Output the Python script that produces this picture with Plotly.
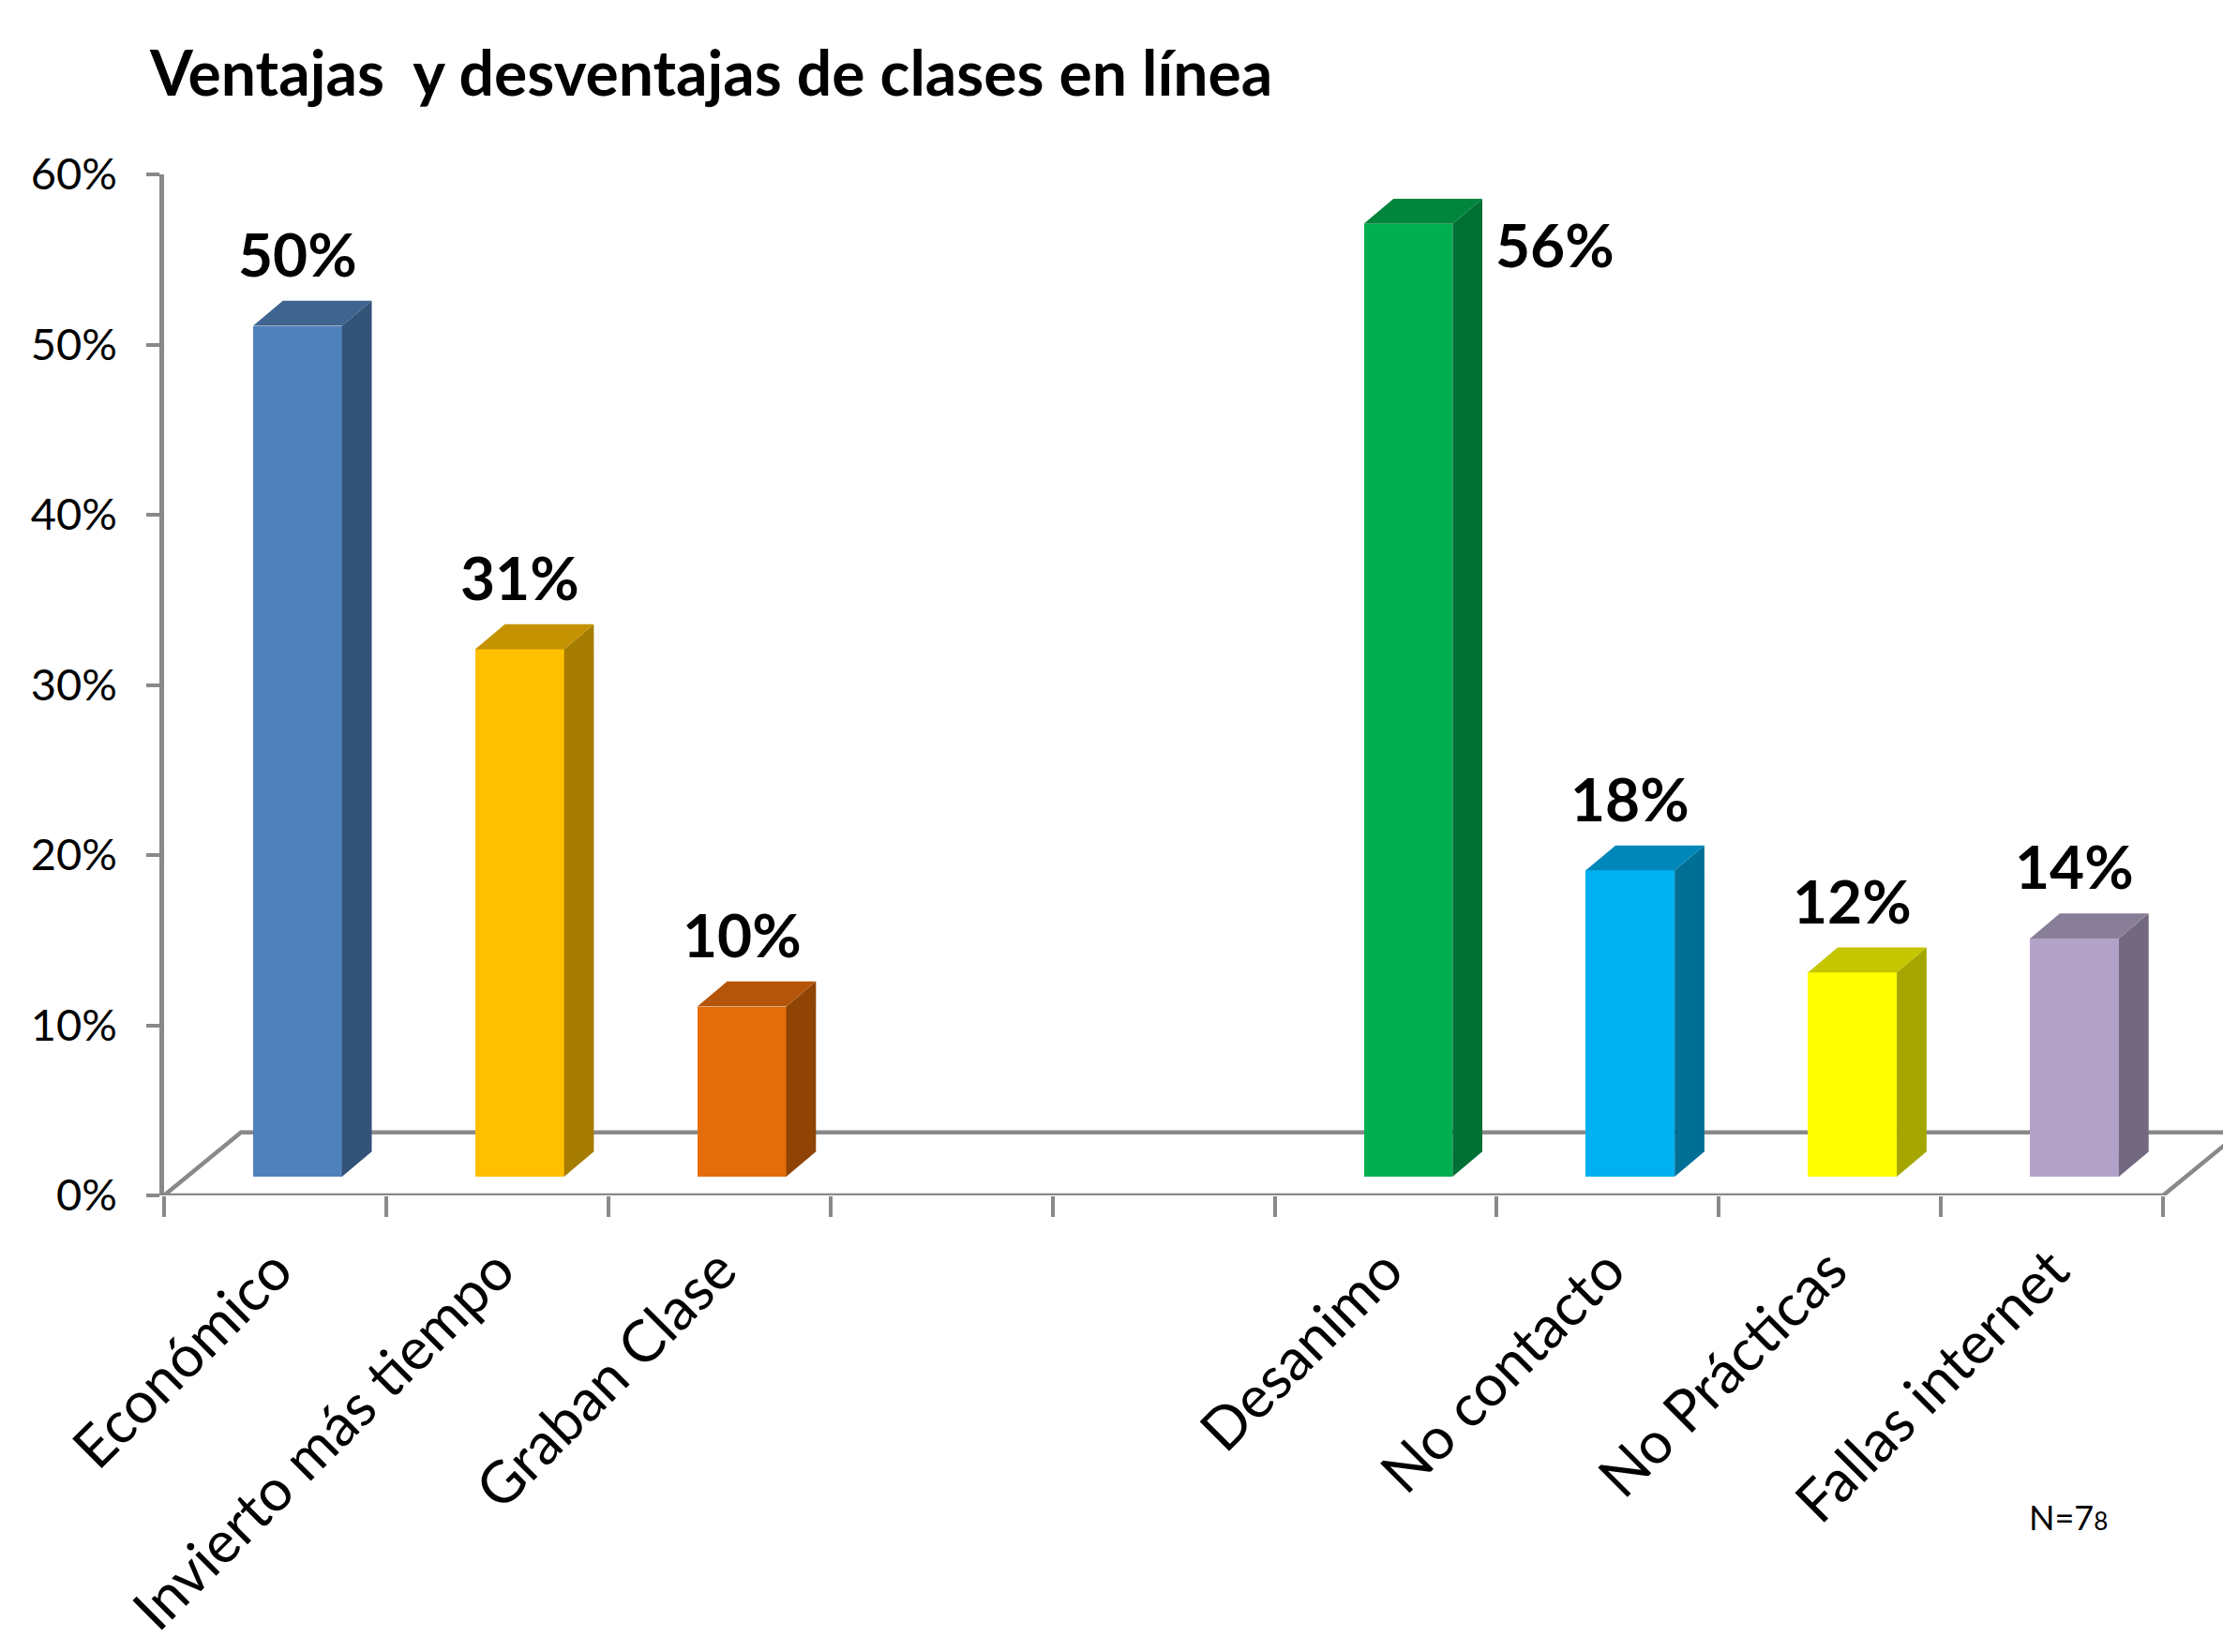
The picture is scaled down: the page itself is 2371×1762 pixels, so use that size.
import plotly.graph_objects as go

# ---------------- data ----------------
categories = ["Económico", "Invierto más tiempo", "Graban Clase", "", "",
              "Desanimo", "No contacto", "No Prácticas", "Fallas internet"]
values = [50, 31, 10, None, None, 56, 18, 12, 14]
label_side = ["top", "top", "top", None, None, "right", "top", "top", "top"]
front_colors = ["#4F81BD", "#FFC000", "#E46C0A", None, None,
                "#00B050", "#00B0F0", "#FFFF00", "#B3A2C7"]
side_colors = ["#345378", "#A67D00", "#8F4406", None, None,
               "#007034", "#006F96", "#A6A600", "#726880"]
top_colors = ["#3E648F", "#C49200", "#B4550A", None, None,
              "#00853C", "#0087BA", "#C5C500", "#897E98"]
y_ticks = [0, 10, 20, 30, 40, 50, 60]
title_text = "Ventajas  y desventajas de clases en línea"
note_text = "N=7<span style='font-size:26px'>8</span>"

# ---------------- 3D projection parameters (axis units) ----------------
BASE = 1.1      # vertical offset of bar front face (percent units)
DX = 0.101      # horizontal offset of bar front face (slot units)
BW = 0.40       # bar width
DDX = 0.134     # bar depth, horizontal
DDY = 1.47      # bar depth, vertical
FDX = 0.346     # floor depth, horizontal
FDY = 3.7       # floor depth, vertical

GREY = "#898989"
FONT = "Lato, 'Open Sans', sans-serif"
n = len(categories)
xs = list(range(n))

fig = go.Figure()

# front faces
bx = [x + DX for x, v in zip(xs, values) if v is not None]
bv = [v for v in values if v is not None]
bc = [c for c, v in zip(front_colors, values) if v is not None]
fig.add_trace(go.Bar(x=bx, y=bv, base=BASE, width=BW,
                     marker=dict(color=bc, line=dict(width=0)),
                     showlegend=False, hoverinfo="skip"))

# side and top faces
for x, v, sc, tc in zip(xs, values, side_colors, top_colors):
    if v is None:
        continue
    xl = x + DX - BW / 2
    xr = x + DX + BW / 2
    b = BASE
    fig.add_trace(go.Scatter(
        x=[xr, xr + DDX, xr + DDX, xr, xr],
        y=[b, b + DDY, b + v + DDY, b + v, b],
        fill="toself", fillcolor=sc, mode="lines", line=dict(width=0, color=sc),
        showlegend=False, hoverinfo="skip"))
    fig.add_trace(go.Scatter(
        x=[xl, xr, xr + DDX, xl + DDX, xl],
        y=[b + v, b + v, b + v + DDY, b + v + DDY, b + v],
        fill="toself", fillcolor=tc, mode="lines", line=dict(width=0, color=tc),
        showlegend=False, hoverinfo="skip"))

# x tick labels on overlaying axis
lab_x = [x for x, c in zip(xs, categories) if c]
lab_t = [c for c in categories if c]
fig.add_trace(go.Scatter(x=lab_x, y=[None] * len(lab_x), xaxis="x2",
                         mode="markers", showlegend=False, hoverinfo="skip"))

# data labels
for x, v, side in zip(xs, values, label_side):
    if v is None:
        continue
    if side == "right":
        fig.add_annotation(x=x + DX + BW / 2 + DDX, y=v + BASE, text=f"<b>{v}%</b>",
                           showarrow=False, xanchor="left", yanchor="middle",
                           xshift=12, yshift=-22,
                           font=dict(family=FONT, size=64, color="black"))
    else:
        fig.add_annotation(x=x + DX, y=v + BASE + DDY, text=f"<b>{v}%</b>",
                           showarrow=False, xanchor="center", yanchor="bottom",
                           yshift=10,
                           font=dict(family=FONT, size=64, color="black"))

# floor
x0, x1 = -0.5, n - 0.5
fig.add_shape(type="path", xref="x", yref="y", layer="below",
              path=f"M {x0},0 L {x1},0 L {x1 + FDX},{FDY} L {x0 + FDX},{FDY} Z",
              line=dict(color=GREY, width=4.5), fillcolor="rgba(0,0,0,0)")

fig.add_annotation(xref="paper", yref="paper", x=0.905, y=-0.315,
                   text=note_text, showarrow=False, xanchor="left", yanchor="middle",
                   font=dict(family=FONT, size=36, color="black"))

L, R, T, B = 175, 0, 186, 487
W, H = 2371, 1762
slot_px = 236.9
xmax = -0.5 + (W - L - R) / slot_px

fig.update_layout(
    width=W, height=H,
    margin=dict(l=L, r=R, t=T, b=B, pad=0),
    plot_bgcolor="white", paper_bgcolor="white",
    font=dict(family=FONT, color="black"),
    title=dict(text=f"<b>{title_text}</b>", xref="container", yref="container",
               x=160 / W, xanchor="left", y=1 - 56 / H, yanchor="top",
               font=dict(family=FONT, size=66, color="black")),
    xaxis=dict(range=[-0.5, xmax], showgrid=False, zeroline=False, showline=False,
               tickmode="array", tickvals=[i - 0.5 for i in range(n + 1)],
               ticktext=[""] * (n + 1), ticks="outside", ticklen=22, tickwidth=4,
               tickcolor=GREY, fixedrange=True),
    xaxis2=dict(range=[-0.5, xmax], overlaying="x", side="bottom", anchor="y",
                showgrid=False, zeroline=False, showline=False,
                tickmode="array", tickvals=lab_x, ticktext=lab_t, ticks="",
                tickangle=-45, ticklabelstandoff=30,
                tickfont=dict(family=FONT, size=62, color="black")),
    yaxis=dict(range=[0, 60], showgrid=False, zeroline=False, showline=True,
               linecolor=GREY, linewidth=4.5, tickmode="array", tickvals=y_ticks,
               ticktext=[f"{t}%" for t in y_ticks], ticks="outside", ticklen=14,
               tickwidth=4, tickcolor=GREY, ticklabelstandoff=22,
               tickfont=dict(family=FONT, size=47, color="black")),
    bargap=0,
)

fig.write_html("out.html")
